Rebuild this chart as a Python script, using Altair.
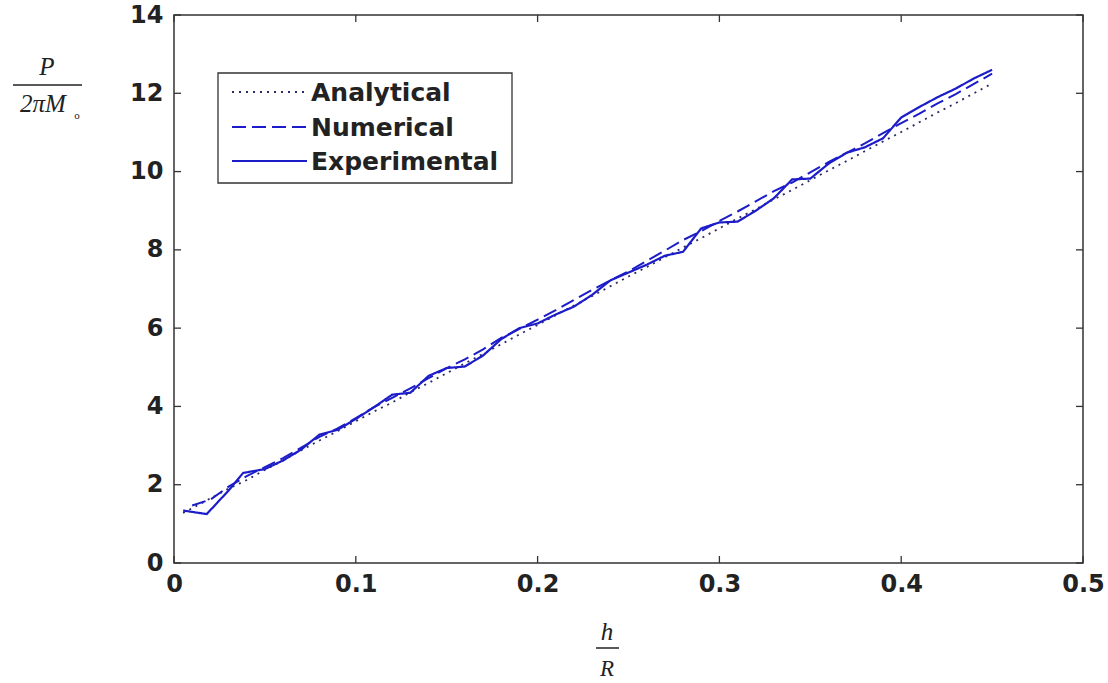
import altair as alt
import pandas as pd

# ---------------- data ----------------
series_names = ["Analytical", "Numerical", "Experimental"]

x_analytical = [0.005, 0.01, 0.02, 0.03, 0.04, 0.05, 0.06, 0.07, 0.08, 0.09, 0.10,
                0.11, 0.12, 0.13, 0.14, 0.15, 0.16, 0.17, 0.18, 0.19, 0.20,
                0.21, 0.22, 0.23, 0.24, 0.25, 0.26, 0.27, 0.28, 0.29, 0.30,
                0.31, 0.32, 0.33, 0.34, 0.35, 0.36, 0.37, 0.38, 0.39, 0.40,
                0.41, 0.42, 0.43, 0.44, 0.45]
y_analytical = [1.28, 1.40, 1.65, 1.90, 2.12, 2.38, 2.62, 2.88, 3.13, 3.37, 3.62,
                3.87, 4.10, 4.36, 4.60, 4.85, 5.10, 5.34, 5.59, 5.84, 6.08,
                6.33, 6.58, 6.82, 7.07, 7.32, 7.56, 7.81, 8.06, 8.30, 8.55,
                8.80, 9.04, 9.29, 9.53, 9.78, 10.03, 10.27, 10.52, 10.77, 11.01,
                11.26, 11.51, 11.75, 12.00, 12.25]

x_numerical = [0.01, 0.02, 0.03, 0.04, 0.05, 0.06, 0.07, 0.08, 0.09, 0.10,
               0.11, 0.12, 0.13, 0.14, 0.15, 0.16, 0.17, 0.18, 0.19, 0.20,
               0.21, 0.22, 0.23, 0.24, 0.25, 0.26, 0.27, 0.28, 0.29, 0.30,
               0.31, 0.32, 0.33, 0.34, 0.35, 0.36, 0.37, 0.38, 0.39, 0.40,
               0.41, 0.42, 0.43, 0.44, 0.45]
y_numerical = [1.47, 1.62, 1.95, 2.22, 2.45, 2.68, 2.95, 3.22, 3.44, 3.70,
               3.98, 4.22, 4.46, 4.72, 4.98, 5.20, 5.46, 5.75, 5.98, 6.22,
               6.46, 6.72, 6.98, 7.22, 7.45, 7.72, 7.98, 8.25, 8.48, 8.74,
               8.98, 9.24, 9.50, 9.72, 9.98, 10.24, 10.48, 10.72, 10.98, 11.24,
               11.48, 11.74, 11.98, 12.24, 12.50]

x_experimental = [0.005, 0.018, 0.03, 0.038, 0.05, 0.06, 0.07, 0.08, 0.09, 0.10,
                  0.11, 0.12, 0.13, 0.14, 0.15, 0.16, 0.17, 0.18, 0.19, 0.20,
                  0.21, 0.22, 0.23, 0.24, 0.25, 0.26, 0.27, 0.28, 0.29, 0.30,
                  0.31, 0.32, 0.33, 0.34, 0.35, 0.36, 0.37, 0.38, 0.39, 0.40,
                  0.41, 0.42, 0.43, 0.44, 0.45]
y_experimental = [1.34, 1.25, 1.85, 2.30, 2.40, 2.62, 2.90, 3.28, 3.40, 3.68,
                  3.98, 4.30, 4.35, 4.78, 4.98, 5.02, 5.30, 5.72, 6.00, 6.12,
                  6.35, 6.55, 6.85, 7.22, 7.42, 7.62, 7.85, 7.95, 8.55, 8.70,
                  8.72, 9.00, 9.32, 9.80, 9.82, 10.20, 10.48, 10.62, 10.85, 11.38,
                  11.65, 11.90, 12.12, 12.38, 12.60]

x_tick_values = [0, 0.1, 0.2, 0.3, 0.4, 0.5]
y_tick_values = [0, 2, 4, 6, 8, 10, 12, 14]

# ---------------- build table ----------------
frames = []
for name, xs, ys in [("Analytical", x_analytical, y_analytical),
                     ("Numerical", x_numerical, y_numerical),
                     ("Experimental", x_experimental, y_experimental)]:
    frames.append(pd.DataFrame({"x": xs, "y": ys, "series": name}))
df = pd.concat(frames, ignore_index=True)

xt = pd.DataFrame({"x": x_tick_values})
yt = pd.DataFrame({"y": y_tick_values})

W, H = 909, 548
TICK = 7
BLUE = "#1c1cc8"
DOT = "#2a2a66"
TEXT = "#222"
colors = [DOT, BLUE, BLUE]
dashes = [[2, 5], [14, 6], [1, 0]]
widths = [1.8, 2.2, 2.2]

xscale = alt.Scale(domain=[0, 0.5], nice=False, zero=False)
yscale = alt.Scale(domain=[0, 14], nice=False)

x_axis = alt.Axis(title=None, values=x_tick_values, ticks=False, domain=False, grid=False,
                  labelExpr="datum.value == 0 ? '0' : format(datum.value, '.1f')",
                  labelPadding=9, labelFlush=False)
y_axis = alt.Axis(title=None, values=y_tick_values, ticks=False, domain=False, grid=False,
                  labelPadding=11, labelFlush=False)

lines = alt.Chart(df).mark_line(clip=True).encode(
    x=alt.X("x:Q", scale=xscale, axis=x_axis),
    y=alt.Y("y:Q", scale=yscale, axis=y_axis),
    color=alt.Color("series:N", scale=alt.Scale(domain=series_names, range=colors), legend=None),
    strokeDash=alt.StrokeDash("series:N", scale=alt.Scale(domain=series_names, range=dashes), legend=None),
    strokeWidth=alt.StrokeWidth("series:N", scale=alt.Scale(domain=series_names, range=widths), legend=None),
    order="x:Q",
)

tick_left = alt.Chart(yt).mark_rule(color="#333", strokeWidth=1.3).encode(
    y=alt.Y("y:Q", scale=yscale, axis=y_axis), x=alt.value(0), x2=alt.value(TICK))
tick_right = alt.Chart(yt).mark_rule(color="#333", strokeWidth=1.3).encode(
    y=alt.Y("y:Q", scale=yscale, axis=y_axis), x=alt.value(W - TICK), x2=alt.value(W))
tick_bottom = alt.Chart(xt).mark_rule(color="#333", strokeWidth=1.3).encode(
    x=alt.X("x:Q", scale=xscale, axis=x_axis), y=alt.value(H), y2=alt.value(H - TICK))
tick_top = alt.Chart(xt).mark_rule(color="#333", strokeWidth=1.3).encode(
    x=alt.X("x:Q", scale=xscale, axis=x_axis), y=alt.value(0), y2=alt.value(TICK))

one = pd.DataFrame({"a": [0]})

# ---------------- legend (drawn box, sample lines, labels) ----------------
legend_box = alt.Chart(one).mark_rect(fill="white", stroke="#333", strokeWidth=1.3).encode(
    x=alt.value(44), x2=alt.value(338), y=alt.value(58), y2=alt.value(168))
legend_layers = [legend_box]
row_y = [77, 112, 146]
for i, name in enumerate(series_names):
    legend_layers.append(
        alt.Chart(one).mark_rule(color=colors[i], strokeDash=dashes[i], strokeWidth=widths[i]).encode(
            x=alt.value(58), x2=alt.value(133), y=alt.value(row_y[i])))
    legend_layers.append(
        alt.Chart(one).mark_text(align="left", baseline="middle", font="DejaVu Sans",
                                 fontWeight="bold", fontSize=25, color=TEXT).encode(
            x=alt.value(137), y=alt.value(row_y[i] + 1), text=alt.value(name)))

# ---------------- fraction axis titles ----------------
serif = dict(font="Liberation Serif", fontStyle="italic", color="#222")
y_num = alt.Chart(one).mark_text(fontSize=25, **serif).encode(
    x=alt.value(-127), y=alt.value(52), text=alt.value("P"))
y_bar = alt.Chart(one).mark_rule(color="#222", strokeWidth=1.5).encode(
    x=alt.value(-161), x2=alt.value(-92), y=alt.value(70))
y_den = alt.Chart(one).mark_text(fontSize=25, **serif).encode(
    x=alt.value(-131), y=alt.value(89), text=alt.value("2πM"))
y_sub = alt.Chart(one).mark_text(fontSize=11, font="Liberation Serif", color="#222").encode(
    x=alt.value(-97), y=alt.value(101), text=alt.value("o"))

x_num = alt.Chart(one).mark_text(fontSize=25, **serif).encode(
    x=alt.value(433), y=alt.value(617), text=alt.value("h"))
x_bar = alt.Chart(one).mark_rule(color="#222", strokeWidth=1.5).encode(
    x=alt.value(422), x2=alt.value(445), y=alt.value(633))
x_den = alt.Chart(one).mark_text(fontSize=23, **serif).encode(
    x=alt.value(433), y=alt.value(654), text=alt.value("R"))

chart = alt.layer(
    lines, tick_left, tick_right, tick_bottom, tick_top,
    *legend_layers,
    y_num, y_bar, y_den, y_sub, x_num, x_bar, x_den
).properties(
    width=W, height=H,
    background="white",
    autosize=alt.AutoSizeParams(type="none"),
    padding={"left": 174, "top": 15, "right": 25, "bottom": 120},
).configure_view(
    stroke="#333", strokeWidth=1.5
).configure_axis(
    labelFont="DejaVu Sans", labelFontSize=24, labelFontWeight="bold", labelColor=TEXT
)

chart.save("out.html", embed_options={"renderer": "svg", "actions": False})
